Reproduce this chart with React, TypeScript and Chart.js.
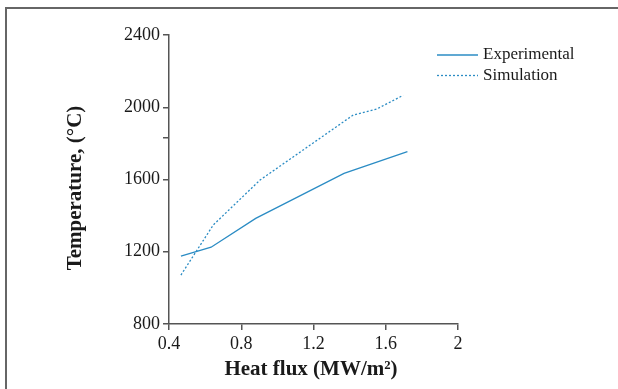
import React, { useEffect, useRef } from 'react';
import { Chart, registerables } from 'chart.js';

Chart.register(...registerables);

const experimentalX = [0.466, 0.633, 0.88, 1.369, 1.72];
const experimentalY = [1176, 1225, 1385, 1634, 1754];
const simulationX = [0.466, 0.645, 0.904, 1.42, 1.55, 1.696];
const simulationY = [1071, 1348, 1597, 1957, 1990, 2066];

const xTickValues = [0.4, 0.8, 1.2, 1.6, 2];
const xTickLabels = ['0.4', '0.8', '1.2', '1.6', '2'];
const yTickValues = [800, 1200, 1600, 1830, 2000, 2400];
const yTickLabels = ['800', '1200', '1600', '', '2000', '2400'];

const seriesNames = ['Experimental', 'Simulation'];
const xTitle = 'Heat flux (MW/m²)';
const yTitle = 'Temperature, (°C)';

const LINE = '#2b8cc4';
const AXIS = '#555555';
const TEXT = '#1a1a1a';
const FONT = '"Liberation Serif", "DejaVu Serif", serif';

const overlayPlugin = {
  id: 'overlay',
  afterDraw(chart: any) {
    const ctx = chart.ctx as CanvasRenderingContext2D;
    ctx.save();
    ctx.fillStyle = TEXT;
    // x title
    ctx.font = `bold 21px ${FONT}`;
    ctx.textAlign = 'center';
    ctx.textBaseline = 'alphabetic';
    ctx.fillText(xTitle, 311, 375);
    // y title
    ctx.save();
    ctx.translate(81, 188);
    ctx.rotate(-Math.PI / 2);
    ctx.fillText(yTitle, 0, 0);
    ctx.restore();
    // legend
    ctx.font = `17px ${FONT}`;
    ctx.textAlign = 'left';
    ctx.textBaseline = 'middle';
    ctx.lineWidth = 1.3;
    ctx.strokeStyle = LINE;
    const rows = [55, 75.5];
    seriesNames.forEach((name, i) => {
      ctx.beginPath();
      ctx.setLineDash(i === 1 ? [2, 2] : []);
      ctx.moveTo(437, rows[i]);
      ctx.lineTo(478, rows[i]);
      ctx.stroke();
      ctx.fillText(name, 483, rows[i]);
    });
    ctx.setLineDash([]);
    ctx.restore();
  },
};

export default function App() {
  const ref = useRef<HTMLCanvasElement | null>(null);

  useEffect(() => {
    if (!ref.current) return;
    const chart = new Chart(ref.current, {
      type: 'line',
      data: {
        datasets: [
          {
            label: seriesNames[0],
            data: experimentalX.map((x, i) => ({ x, y: experimentalY[i] })),
            borderColor: LINE,
            borderWidth: 1.3,
            pointRadius: 0,
            tension: 0,
            fill: false,
          },
          {
            label: seriesNames[1],
            data: simulationX.map((x, i) => ({ x, y: simulationY[i] })),
            borderColor: LINE,
            borderWidth: 1.3,
            borderDash: [2, 2],
            pointRadius: 0,
            tension: 0,
            fill: false,
          },
        ],
      },
      options: {
        responsive: false,
        animation: false,
        devicePixelRatio: 1,
        layout: { padding: { left: 0, top: 35, right: 160, bottom: 0 } },
        plugins: {
          legend: { display: false },
          tooltip: { enabled: false },
          title: { display: false },
        },
        scales: {
          x: {
            type: 'linear',
            min: 0.4,
            max: 2,
            afterBuildTicks: (scale: any) => {
              scale.ticks = xTickValues.map((v) => ({ value: v }));
            },
            afterFit: (scale: any) => {
              scale.height = 65;
            },
            ticks: {
              autoSkip: false,
              maxRotation: 0,
              padding: 3,
              color: TEXT,
              font: { family: FONT, size: 18 },
              callback: (v: any) => {
                const i = xTickValues.indexOf(Number(v));
                return i >= 0 ? xTickLabels[i] : '';
              },
            },
            grid: {
              drawOnChartArea: false,
              drawTicks: true,
              tickLength: 6,
              color: AXIS,
              lineWidth: 1.5,
            },
            border: { display: true, color: AXIS, width: 1.5 },
          },
          y: {
            type: 'linear',
            min: 800,
            max: 2400,
            afterBuildTicks: (scale: any) => {
              scale.ticks = yTickValues.map((v) => ({ value: v }));
            },
            afterFit: (scale: any) => {
              scale.width = 169;
            },
            ticks: {
              autoSkip: false,
              padding: 3,
              color: TEXT,
              font: { family: FONT, size: 18 },
              callback: (v: any) => {
                const i = yTickValues.indexOf(Number(v));
                return i >= 0 ? yTickLabels[i] : '';
              },
            },
            grid: {
              drawOnChartArea: false,
              drawTicks: true,
              tickLength: 6,
              color: AXIS,
              lineWidth: 1.5,
            },
            border: { display: true, color: AXIS, width: 1.5 },
          },
        },
      },
      plugins: [overlayPlugin],
    });
    return () => chart.destroy();
  }, []);

  return (
    <div
      style={{
        position: 'fixed',
        left: 0,
        top: 0,
        width: 618,
        height: 389,
        background: '#fff',
        overflow: 'hidden',
      }}
    >
      <div
        style={{
          position: 'absolute',
          left: 5,
          top: 7,
          width: 700,
          height: 500,
          borderLeft: '2px solid #666',
          borderTop: '2px solid #666',
        }}
      />
      <canvas ref={ref} width={618} height={389} style={{ position: 'absolute', left: 0, top: 0 }} />
    </div>
  );
}
